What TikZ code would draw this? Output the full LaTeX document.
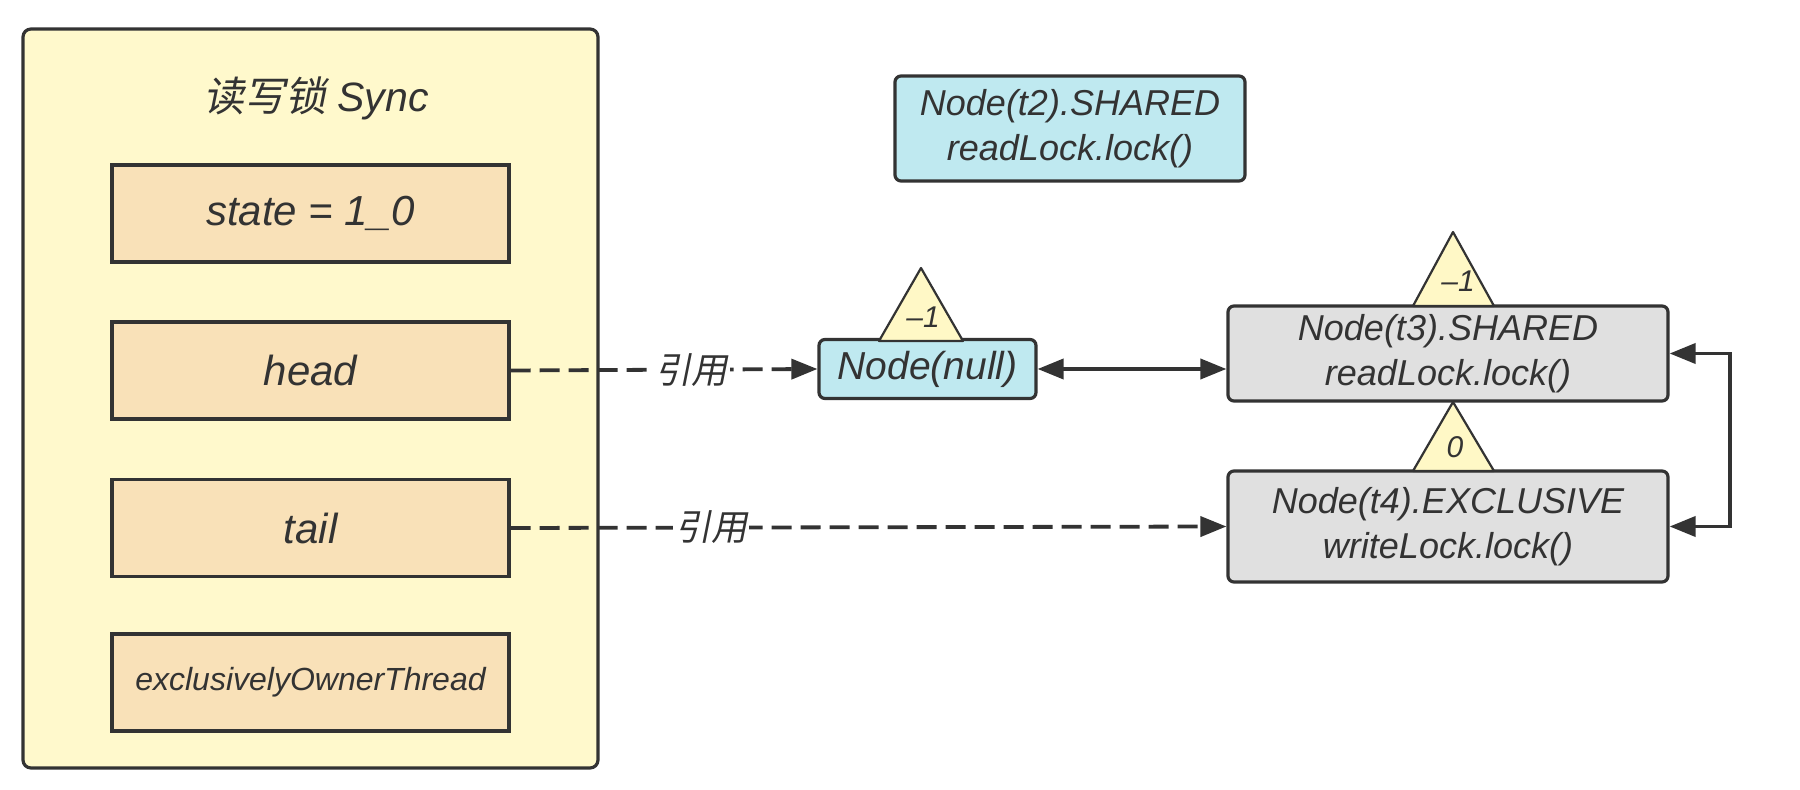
\documentclass[tikz,border=0pt]{standalone}
\usepackage{fontspec}
\setmainfont{Liberation Sans}
\newfontfamily\cjk[FakeSlant=0.2]{Noto Sans CJK SC}
\usetikzlibrary{arrows.meta}
\definecolor{ink}{HTML}{333333}
\definecolor{syncyellow}{HTML}{FFF9CC}
\definecolor{peach}{HTML}{F9E1B8}
\definecolor{nodecyan}{HTML}{BFE9F0}
\definecolor{nodegrey}{HTML}{E0E0E0}
\definecolor{triyellow}{HTML}{FFF8C6}
\tikzset{
  basebox/.style={draw=ink, line width=1.6pt, text=ink, inner sep=0pt},
  syncbox/.style={basebox, fill=syncyellow, rounded corners=4pt},
  field/.style={basebox, fill=peach, minimum width=198.5pt, minimum height=48.5pt,
    font=\itshape\fontsize{21}{25}\selectfont},
  smallfield/.style={field, font=\itshape\fontsize{16}{20}\selectfont},
  qnode/.style={basebox, rounded corners=3pt, align=center,
    font=\itshape\fontsize{18}{22.5}\selectfont},
  tri/.style={draw=ink, fill=triyellow, line width=1.1pt, line join=round},
  trilabel/.style={text=ink, inner sep=0pt, font=\itshape\fontsize{15}{15}\selectfont},
  conn/.style={draw=ink, line width=1.9pt},
  tip/.style={-{Triangle[length=13pt,width=10pt]}},
  bothtips/.style={{Triangle[length=13pt,width=10pt]}-{Triangle[length=13pt,width=10pt]}},
  dashline/.style={conn, tip, dash pattern=on 10pt off 4.5pt},
  reflabel/.style={fill=white, text=ink, inner sep=1pt, font=\cjk\fontsize{18}{18}\selectfont}
}
\begin{document}
\begin{tikzpicture}[x=0.5pt,y=-0.5pt]
\useasboundingbox (0,0) rectangle (1800,790);
% Sync container
\node[syncbox, minimum width=287.5pt, minimum height=369.5pt] (sync) at (310.5,398.5) {};
\node[text=ink, inner sep=0pt, font=\itshape\fontsize{20.5}{24}\selectfont] (title) at (316,98) {{\cjk 读写锁} Sync};
\node[field] (state) at (310.5,213.5) {state = 1\_0};
\node[field] (head) at (310.5,370.5) {head};
\node[field] (tail) at (310.5,528) {tail};
\node[smallfield] (owner) at (310.5,682.5) {exclusivelyOwnerThread};
% queue nodes
\node[qnode, fill=nodecyan, minimum width=175pt, minimum height=52.5pt] (t2) at (1070,128.5) {Node(t2).SHARED\\readLock.lock()};
\node[qnode, fill=nodecyan, minimum width=108.5pt, minimum height=29.5pt, font=\itshape\fontsize{19.5}{22}\selectfont] (null) at (927.5,369) {Node(null)};
\node[qnode, fill=nodegrey, minimum width=220pt, minimum height=47.5pt] (t3) at (1448,353.5) {Node(t3).SHARED\\readLock.lock()};
\node[qnode, fill=nodegrey, minimum width=220pt, minimum height=55.5pt] (t4) at (1448,526.5) {Node(t4).EXCLUSIVE\\writeLock.lock()};
% wait-status triangles
\draw[tri] (879,341) -- (921,268) -- (963,341) -- cycle;
\node[trilabel] (s1) at (923,317) {–1};
\draw[tri] (1413,306) -- (1453,232) -- (1494,306) -- cycle;
\node[trilabel] (s2) at (1458,281) {–1};
\draw[tri] (1413,471) -- (1453,402) -- (1494,471) -- cycle;
\node[trilabel] (s3) at (1455,447) {0};
% connectors
\draw[dashline] (head.east) -- node[reflabel, pos=0.59] (ref1) {引用} (null.west);
\draw[dashline] (tail.east) -- node[reflabel, pos=0.28] (ref2) {引用} (t4.west);
\draw[conn, bothtips] (null.east) -- (null.east -| t3.west);
\coordinate (bend) at (1730,353.5);
\draw[conn, bothtips] (t3.east) -- (bend) |- (t4.east);
\end{tikzpicture}
\end{document}
